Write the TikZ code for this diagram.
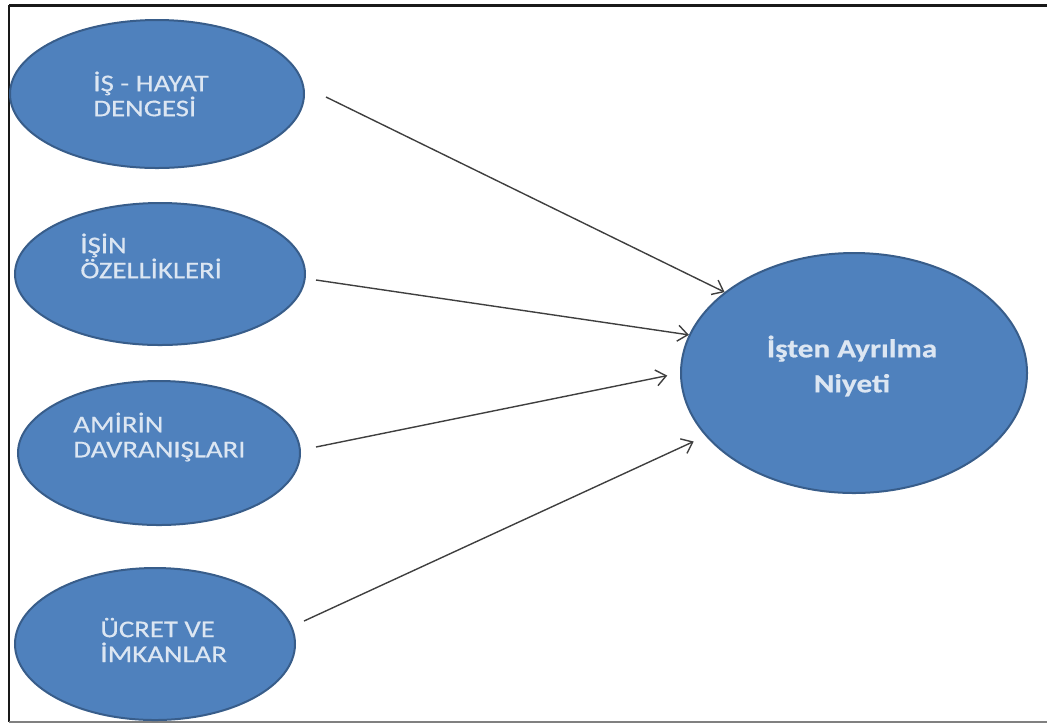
\documentclass[tikz,border=0pt]{standalone}
\usepackage{fontspec}
\setmainfont{Carlito}
\newfontfamily\boxfont[FakeStretch=1.2,FakeBold=0.5]{Carlito}
\usepackage{tikz}
\usetikzlibrary{shapes.geometric}
\usetikzlibrary{arrows.meta}
\definecolor{boxblue}{HTML}{4F81BD}
\definecolor{boxedge}{HTML}{385D8A}
\definecolor{boxtext}{HTML}{DCE6F2}
\definecolor{arrowgray}{HTML}{3F3F3F}
\tikzset{
    factor/.style={ellipse,draw=boxedge,fill=boxblue,line width=1pt,inner sep=0pt},
    factortext/.style={text=boxtext,anchor=west,align=left,inner sep=0pt,font=\boxfont\fontsize{12}{12.5}\selectfont},
    goaltext/.style={text=boxtext,align=center,inner sep=0pt,font=\boxfont\bfseries\fontsize{13}{17.5}\selectfont},
    effect/.style={draw=arrowgray,line width=0.7pt,-{Straight Barb[length=5pt,width=8pt]}}
}

\begin{document}
\begin{tikzpicture}[x=0.5pt,y=-0.5pt]
\useasboundingbox (0,0) rectangle (1047,725);
% frame
\draw[line width=1.5pt,black!90] (9,5) -- (1047,5);
\draw[line width=1pt,black!90] (9,5) -- (9,722);
\draw[line width=1pt,black!50] (9,722) -- (1047,722);
\node[factor,minimum width=147pt,minimum height=74pt] (e1) at (157,94) {};
\node[factor,minimum width=145pt,minimum height=71pt] (e2) at (160,274) {};
\node[factor,minimum width=141pt,minimum height=72pt] (e3) at (159,453) {};
\node[factor,minimum width=140pt,minimum height=76pt] (e4) at (155,644) {};
\node[factor,minimum width=173pt,minimum height=120pt] (goal) at (854,373) {};
\node[factortext] (t1) at (93,94) {İŞ - HAYAT\\DENGESİ};
\node[factortext] (t2) at (80,256) {İŞİN\\ÖZELLİKLERİ};
\node[factortext] (t3) at (73,437) {AMİRİN\\DAVRANIŞLARI};
\node[factortext] (t4) at (100,640) {ÜCRET VE\\İMKANLAR};
\node[goaltext] (tgoal) at (852,366) {İşten Ayrılma\\Niyeti};
\draw[effect] ([shift={(21,3)}]e1.east) -- (goal.148);
\draw[effect] ([shift={(10,6)}]e2.east) -- (goal.167);
\draw[effect,shorten >=6.5pt] ([shift={(15,-6)}]e3.east) -- (goal.west);
\draw[effect,shorten >=6.5pt] ([shift={(8,-23)}]e4.east) -- (goal.203);
\end{tikzpicture}
\end{document}
